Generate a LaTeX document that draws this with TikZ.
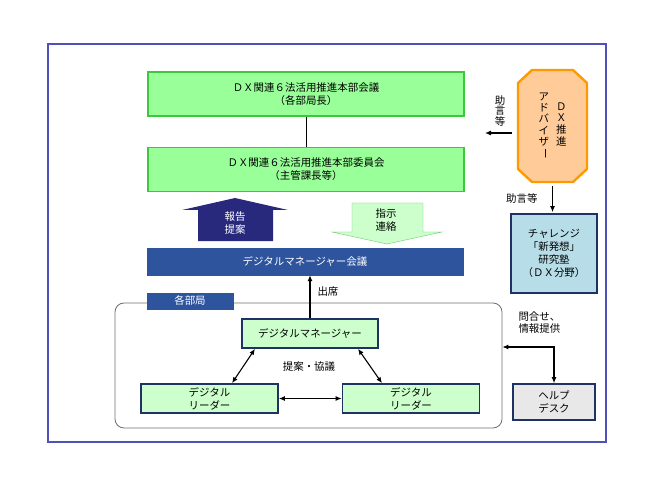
\documentclass[tikz,border=0pt]{standalone}
\usepackage{fontspec}
\setmainfont{Noto Sans CJK JP}
\usetikzlibrary{arrows.meta,positioning}
\definecolor{hqGreen}{RGB}{153,255,153}
\definecolor{hqBorder}{RGB}{60,200,60}
\definecolor{memberGreen}{RGB}{204,255,204}
\definecolor{instructBorder}{RGB}{110,200,110}
\definecolor{navyBorder}{RGB}{31,50,100}
\definecolor{meetingBlue}{RGB}{46,84,158}
\definecolor{reportNavy}{RGB}{40,40,125}
\definecolor{frameBlue}{RGB}{80,80,185}
\definecolor{adviserFill}{RGB}{255,204,153}
\definecolor{adviserBorder}{RGB}{255,153,0}
\definecolor{challengeFill}{RGB}{183,222,232}
\definecolor{helpGray}{RGB}{232,232,232}
\definecolor{officeGray}{RGB}{110,110,110}
\newcommand{\jpfont}{\fontsize{10.5}{13}\selectfont}
\newcommand{\tatefont}{\fontsize{10.5}{10.5}\selectfont}
\tikzset{hq/.style={fill=hqGreen, draw=hqBorder, line width=1.2bp, align=center, minimum width=316bp, minimum height=44bp}}
\tikzset{meeting/.style={fill=meetingBlue, draw=meetingBlue, text=white, minimum width=316bp, minimum height=27bp}}
\tikzset{member/.style={fill=memberGreen, draw=navyBorder, line width=1.6bp, align=center, minimum width=137bp, minimum height=29bp, inner sep=2bp}}
\tikzset{tab/.style={fill=meetingBlue, draw=meetingBlue, text=white, minimum width=86bp, minimum height=16bp, inner sep=1bp}}
\tikzset{office/.style={draw=officeGray, line width=0.8bp, rounded corners=9bp, minimum width=387bp, minimum height=125bp}}
\tikzset{outside/.style={draw=navyBorder, line width=1.6bp, align=center, inner sep=2bp}}
\tikzset{link/.style={line width=1.1bp, -{Latex[length=6bp,width=5bp]}}}
\tikzset{twoway/.style={line width=1.1bp, {Latex[length=6bp,width=5bp]}-{Latex[length=6bp,width=5bp]}}}

\begin{document}
\begin{tikzpicture}[x=1bp, y=-1bp, font=\jpfont]
\useasboundingbox (0,0) rectangle (650,487);
% Frame
\draw[frameBlue, line width=1.6bp] (48,44) rectangle (606,442);

% Nodes
\node (Honbu) [hq] at (306,94) {ＤＸ関連６法活用推進本部会議\\（各部局長）};
\node (Iinkai) [hq, below=30bp of Honbu] {ＤＸ関連６法活用推進本部委員会\\（主管課長等）};
\node (DMKaigi) [meeting] at (305,261.5) {デジタルマネージャー会議};

\node (Kakubu) [office] at (308.5,365.5) {};
\node (KakubuTab) [tab] at (190,301) {各部局};
\node (DM) [member, minimum width=136bp] at (310,333.5) {デジタルマネージャー};
\node (LeaderL) [member] at (209.5,398.5) {デジタル\\リーダー};
\node (LeaderR) [member] at (411,398.5) {デジタル\\リーダー};
\node (Kyogi) at (309,367) {提案・協議};

% big arrows
\fill[reportNavy] (198,241) -- (198,210) -- (182,210) -- (235,198) -- (288,210) -- (273,210) -- (273,241) -- cycle;
\node (Houkoku) [text=white, align=center] at (235,223.5) {報告\\提案};
\draw[instructBorder, fill=memberGreen] (352,203) -- (423,203) -- (423,232) -- (442,232) -- (387,244) -- (332,232) -- (352,232) -- cycle;
\node (Shiji) [align=center] at (386,220) {指示\\連絡};

% right side
\filldraw[fill=adviserFill, draw=adviserBorder, line width=2.4bp, line join=round] (532,70) -- (573,70) -- (587,83) -- (587,169) -- (573,182) -- (532,182) -- (518,169) -- (518,83) -- cycle;
\node (Adviser) [minimum width=69bp, minimum height=112bp, inner sep=0bp, font=\tatefont] at (552.5,126)
  {\begin{tabular}[c]{@{}c@{}}ア\\ド\\バ\\イ\\ザ\\\rotatebox[origin=c]{-90}{ー}\end{tabular}\hspace{7bp}\begin{tabular}[c]{@{}c@{}}Ｄ\\Ｘ\\推\\進\end{tabular}};
\node (AdviceTate) [font=\tatefont, align=center] at (500,111) {助\\言\\等};
\coordinate (AdviceEnd) at (485,133);
\node (Challenge) [outside, fill=challengeFill, minimum width=86bp, minimum height=79bp] at (554,253.5) {チャレンジ\\「新発想」\\研究塾\\（ＤＸ分野）};
\node (AdviceYoko) [anchor=east] at (541,199) {助言等};
\node (Helpdesk) [outside, fill=helpGray, minimum width=82bp, minimum height=36bp] at (554,402) {ヘルプ\\デスク};
\node (Toiawase) [anchor=north west, align=left, font=\fontsize{10.5}{12}\selectfont] at (515,308) {問合せ、\\情報提供};
\node (Shusseki) [anchor=west] at (314,292) {出席};

% Connectors
\draw[line width=0.8bp] (Honbu) -- (Iinkai);
\draw[link] (DM.north) -- (DM.north |- DMKaigi.south);
\draw[twoway] ([xshift=-55bp]DM.south) -- ([xshift=22.5bp]LeaderL.north);
\draw[twoway] ([xshift=48bp]DM.south) -- ([xshift=-29bp]LeaderR.north);
\draw[twoway] (LeaderL) -- (LeaderR);
\draw[link, shorten <=6bp] (AdviceEnd -| Adviser.west) -- (AdviceEnd);
\draw[link, shorten <=4bp, shorten >=1bp] (Adviser.south) -- (Adviser.south |- Challenge.north);
\draw[twoway] ([yshift=18.5bp]Kakubu.east) -| (Helpdesk.north);
\end{tikzpicture}
\end{document}
